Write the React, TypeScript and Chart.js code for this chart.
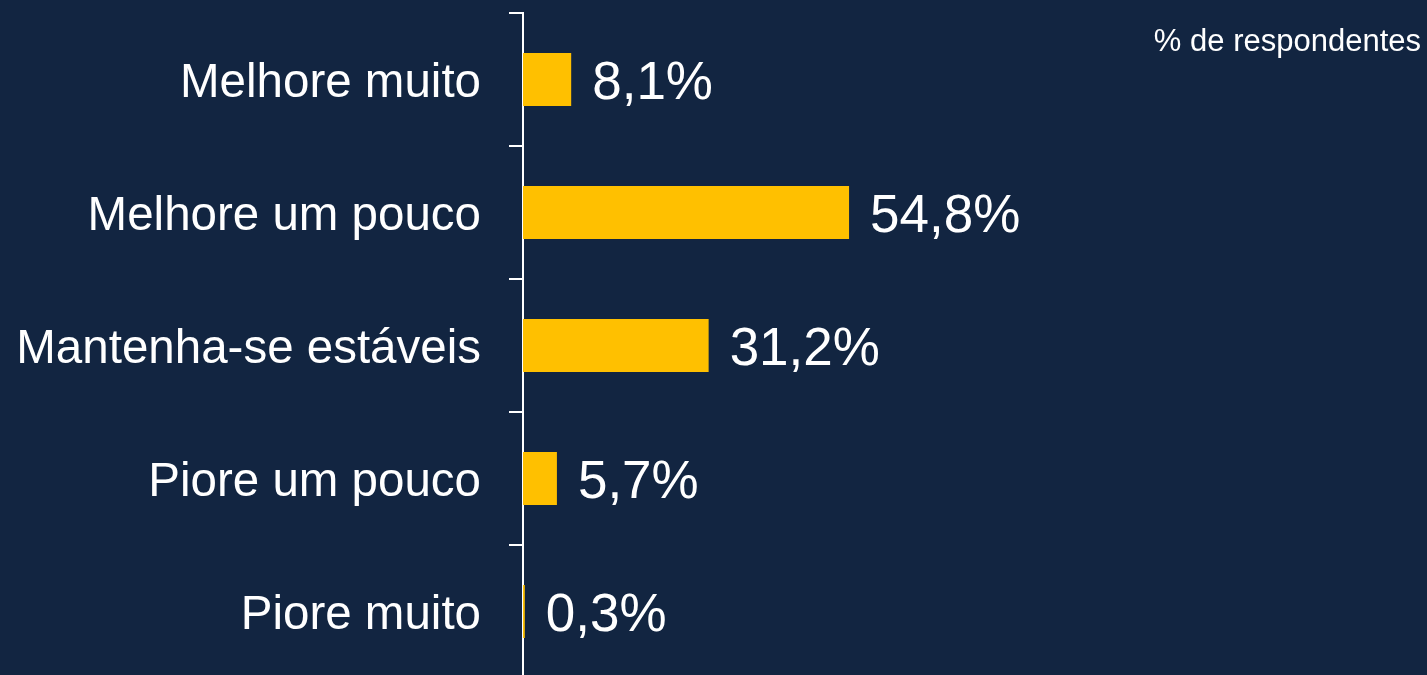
import React, { useEffect, useRef } from "react";
import { Chart, registerables } from "chart.js";

Chart.register(...registerables);

const categories = [
  "Melhore muito",
  "Melhore um pouco",
  "Mantenha-se estáveis",
  "Piore um pouco",
  "Piore muito",
];
const values = [8.1, 54.8, 31.2, 5.7, 0.3];
const valueLabels = ["8,1%", "54,8%", "31,2%", "5,7%", "0,3%"];
const unitNote = "% de respondentes";

const BG = "#122541";
const BAR = "#FFC000";
const FONT = '"Liberation Sans", Arial, sans-serif';

const labelPlugin = {
  id: "valueLabels",
  afterDatasetsDraw(chart: any) {
    const ctx = chart.ctx;
    const meta = chart.getDatasetMeta(0);
    ctx.save();
    ctx.fillStyle = "#ffffff";
    ctx.font = `53px ${FONT}`;
    ctx.textAlign = "left";
    ctx.textBaseline = "middle";
    meta.data.forEach((bar: any, i: number) => {
      ctx.fillText(valueLabels[i], bar.x + 21, bar.y + 5);
    });
    ctx.font = `31px ${FONT}`;
    ctx.textAlign = "right";
    ctx.textBaseline = "alphabetic";
    ctx.fillText(unitNote, 1421, 51);
    ctx.restore();
  },
};

export default function App() {
  const ref = useRef<HTMLCanvasElement>(null);
  useEffect(() => {
    document.body.style.margin = "0";
    document.body.style.background = BG;
    const chart = new Chart(ref.current!, {
      type: "bar",
      data: {
        labels: categories,
        datasets: [
          {
            data: values,
            backgroundColor: BAR,
            borderWidth: 0,
            barPercentage: 0.4,
            categoryPercentage: 1,
          },
        ],
      },
      options: {
        indexAxis: "y",
        animation: false,
        responsive: false,
        layout: { padding: { top: 13, right: 309, bottom: 0, left: 0 } },
        plugins: {
          legend: { display: false },
          tooltip: { enabled: false },
        },
        scales: {
          x: { display: false, min: 0, max: 100 },
          y: {
            afterFit(scale: any) {
              scale.width = 523;
              scale.paddingTop = 0;
              scale.paddingBottom = 0;
            },
            grid: {
              display: true,
              drawOnChartArea: false,
              drawTicks: true,
              tickLength: 14,
              color: "#ffffff",
              lineWidth: 2,
              offset: true,
            },
            border: { display: true, color: "#ffffff", width: 2 },
            ticks: {
              color: "#ffffff",
              padding: 28,
              labelOffset: 4,
              font: { family: FONT, size: 47.5 },
            },
          },
        },
      },
      plugins: [labelPlugin],
    });
    return () => chart.destroy();
  }, []);
  return (
    <div
      style={{
        position: "fixed",
        left: 0,
        top: 0,
        width: 1427,
        height: 675,
        overflow: "hidden",
        background: BG,
      }}
    >
      <canvas ref={ref} width={1427} height={678} style={{ display: "block" }} />
    </div>
  );
}
